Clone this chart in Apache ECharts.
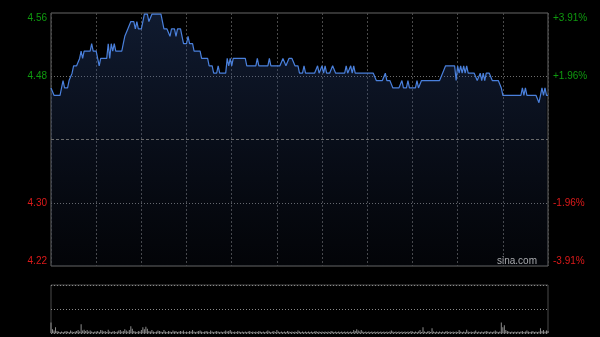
<!DOCTYPE html>
<html>
<head>
<meta charset="utf-8">
<script src="https://cdn.jsdelivr.net/npm/echarts@6/dist/echarts.min.js"></script>
<style>
  html, body { margin: 0; padding: 0; background: #000; }
  #chart { width: 600px; height: 337px; }
</style>
</head>
<body>
<div id="chart"></div>
<script>
// 昨收
var prevClose = 4.39;

// 每分钟价格（单位：分），09:30 - 16:00
var priceCents = [
    446,446,445,445,445,445,445,446,447,446,
    446,446,447,447,448,449,449,449,449,450,
    451,450,451,451,451,451,451,452,451,451,
    451,451,449,450,450,450,450,450,452,450,
    452,451,452,451,451,451,451,451,452,453,
    453,454,454,455,455,455,454,455,454,454,
    454,455,456,456,456,455,455,456,456,456,
    456,456,456,456,456,454,454,454,454,453,
    454,454,454,453,454,454,454,453,452,452,
    452,453,452,452,452,451,451,451,451,451,
    450,450,450,450,450,449,449,449,448,448,
    448,449,448,448,448,448,448,450,449,450,
    449,450,450,450,450,450,450,450,450,450,
    449,449,449,449,449,449,449,450,449,449,
    449,449,449,449,449,450,449,449,449,449,
    449,449,449,449,450,450,449,449,450,450,
    450,450,449,449,449,448,448,448,449,448,
    448,448,448,448,448,448,448,449,448,448,
    449,448,449,448,448,448,448,449,449,448,
    448,448,448,448,448,448,449,448,448,449,
    448,449,448,448,448,448,448,448,448,448,
    448,448,448,448,448,448,447,447,447,447,
    447,447,448,447,447,447,447,446,446,446,
    446,446,446,447,446,446,446,447,446,446,
    446,446,446,447,446,446,447,447,447,447,
    447,447,447,447,447,447,447,447,447,447,
    448,448,449,449,449,449,449,449,449,447,
    449,448,449,448,449,448,449,448,448,448,
    448,448,448,447,447,448,447,448,447,448,
    448,448,448,447,447,447,447,447,447,446,
    445,445,445,445,445,445,445,445,445,445,
    445,445,445,446,445,446,445,445,445,445,
    445,445,445,445,444,445,446,445,446,445,
    445
];

// 每分钟成交量（相对值）
var volume = [
    22,8,5,12,4,3,2,3,2,3, 4,3,2,5,3,2,3,4,6,3, 18,5,7,4,6,3,5,3,2,3,
    3,4,2,6,5,3,4,2,7,3, 2,3,4,2,3,5,6,3,4,8, 5,3,6,14,9,4,3,2,4,3,
    6,12,8,13,9,4,3,6,3,2, 3,5,4,3,2,6,3,2,4,3, 2,5,3,4,2,3,4,3,5,2,
    3,2,4,3,6,3,2,3,4,5, 3,2,3,4,3,2,5,3,2,3, 4,3,2,3,2,3,5,3,4,6,
    3,2,3,2,4,3,2,3,2,3, 2,3,4,2,3,2,3,2,4,3, 2,3,2,3,5,3,2,3,4,2,
    6,3,2,3,2,3,2,4,3,2, 3,2,3,2,5,3,2,3,2,3, 2,3,2,3,2,3,4,2,3,2,
    3,2,3,2,3,2,4,3,2,3, 2,3,2,3,2,3,2,3,2,3, 2,6,4,8,5,3,6,3,2,3,
    2,3,2,3,2,3,2,3,2,3, 2,3,2,3,2,3,5,3,2,3, 2,3,2,3,2,3,2,3,2,4,
    3,2,3,2,3,6,2,12,3,2, 3,4,2,10,3,2,3,2,3,2, 3,2,3,4,2,3,2,3,2,3,
    2,6,3,2,3,2,7,3,2,3, 2,3,5,2,3,2,3,2,3,4, 3,2,3,2,3,5,3,2,3,22,
    12,16,6,4,3,2,3,2,3,2, 3,2,3,4,2,3,5,3,2,3, 4,2,3,2,3,10,4,6,3,5,
    4
];

// 纵轴刻度文字（自下而上）
var leftTicks = ['4.22', '4.30', '', '4.48', '4.56'];
var rightTicks = ['-3.91%', '-1.96%', '', '+1.96%', '+3.91%'];
var tickColors = ['#dd1a1a', '#dd1a1a', '#888', '#0f9a0f', '#0f9a0f'];

// 时间轴
var times = [];
for (var i = 0; i <= 330; i++) {
    var t = i < 150 ? 9 * 60 + 30 + i : 13 * 60 + (i - 150);
    var hh = Math.floor(t / 60), mm = t % 60;
    times.push((hh < 10 ? '0' : '') + hh + ':' + (mm < 10 ? '0' : '') + mm);
}

var pctData = priceCents.map(function (c) {
    return (c / 100 / prevClose - 1) * 100;
});

var myChart = echarts.init(document.getElementById('chart'));

var labelFont = { fontFamily: 'Arial, "Liberation Sans", sans-serif', fontSize: 10 };

option = {
    backgroundColor: '#000',
    animation: false,
    grid: [
        { left: 51, right: 52, top: 13, height: 253, show: true, borderColor: '#666', borderWidth: 1 },
        { left: 51, right: 52, top: 285, height: 48, show: true, borderColor: '#4a4a4a', borderWidth: 1 }
    ],
    graphic: [{
        type: 'text',
        right: 63,
        top: 256,
        style: { text: 'sina.com', fill: '#b4b4b4', font: '10px Arial, "Liberation Sans", sans-serif' }
    }],
    xAxis: [{
        type: 'category',
        gridIndex: 0,
        data: times,
        boundaryGap: false,
        axisLine: { show: false },
        axisTick: { show: false },
        axisLabel: { show: false },
        splitLine: { show: true, interval: 29, lineStyle: { color: '#4a4a4a', type: [2, 2], width: 1 } }
    }, {
        type: 'category',
        gridIndex: 1,
        data: times,
        boundaryGap: false,
        axisLine: { show: false },
        axisTick: { show: false },
        axisLabel: { show: false },
        splitLine: { show: false }
    }],
    yAxis: [{
        type: 'value',
        gridIndex: 0,
        position: 'left',
        min: -3.91,
        max: 3.91,
        interval: 1.955,
        axisLine: { show: false },
        axisTick: { show: false },
        splitLine: {
            show: true,
            lineStyle: { color: ['rgba(0,0,0,0)', '#6e6e6e', 'rgba(0,0,0,0)', '#6e6e6e', 'rgba(0,0,0,0)'], type: [1, 2], width: 1 }
        },
        axisLabel: {
            margin: 4,
            fontFamily: labelFont.fontFamily,
            fontSize: labelFont.fontSize,
            verticalAlignMaxLabel: 'top',
            verticalAlignMinLabel: 'bottom',
            color: function (v, idx) { return tickColors[idx]; },
            formatter: function (v, idx) { return leftTicks[idx]; }
        }
    }, {
        type: 'value',
        gridIndex: 0,
        position: 'right',
        min: -3.91,
        max: 3.91,
        interval: 1.955,
        axisLine: { show: false },
        axisTick: { show: false },
        splitLine: { show: false },
        axisLabel: {
            margin: 5,
            fontFamily: labelFont.fontFamily,
            fontSize: labelFont.fontSize,
            verticalAlignMaxLabel: 'top',
            verticalAlignMinLabel: 'bottom',
            color: function (v, idx) { return tickColors[idx]; },
            formatter: function (v, idx) { return rightTicks[idx]; }
        }
    }, {
        type: 'value',
        gridIndex: 1,
        min: 0,
        max: 100,
        interval: 50,
        axisLine: { show: false },
        axisTick: { show: false },
        axisLabel: { show: false },
        splitLine: { show: true, lineStyle: { color: '#8a8a8a', type: [1, 2], width: 1 } }
    }],
    series: [{
        name: '价格',
        type: 'line',
        xAxisIndex: 0,
        yAxisIndex: 0,
        data: pctData,
        symbol: 'none',
        lineStyle: { color: '#4a80dc', width: 1.2 },
        areaStyle: {
            origin: 'start',
            color: new echarts.graphic.LinearGradient(0, 0, 0, 1, [
                { offset: 0, color: 'rgba(45,75,135,0.5)' },
                { offset: 1, color: 'rgba(40,60,110,0.10)' }
            ])
        },
        markLine: {
            silent: true,
            symbol: 'none',
            label: { show: false },
            lineStyle: { color: '#6a6a6a', type: [3, 2], width: 1 },
            data: [{ yAxis: 0 }]
        }
    }, {
        name: '成交量',
        type: 'bar',
        xAxisIndex: 1,
        yAxisIndex: 2,
        data: volume,
        barWidth: 1,
        itemStyle: { color: '#8c8c8c' }
    }]
};

myChart.setOption(option);
</script>
</body>
</html>
